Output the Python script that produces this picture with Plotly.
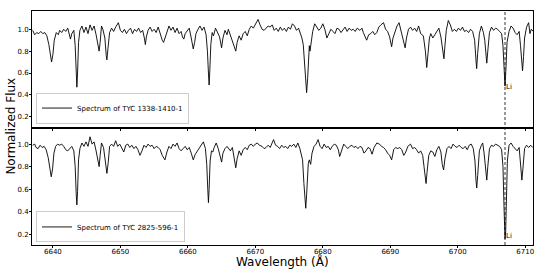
import plotly.graph_objects as go
from plotly.subplots import make_subplots

# ---------------- data ----------------
wl_top = [6637.0, 6637.3, 6637.6, 6637.9, 6638.2, 6638.5, 6638.8, 6639.1, 6639.4, 6639.6, 6639.8, 6640.0,
          6640.2, 6640.5, 6640.8, 6641.0, 6641.3, 6641.6, 6641.9, 6642.2, 6642.4, 6642.6, 6642.8, 6643.1,
          6643.3, 6643.45, 6643.55, 6643.65, 6643.8, 6644.0, 6644.3, 6644.6, 6644.9, 6645.2, 6645.5, 6645.8,
          6646.1, 6646.4, 6646.7, 6646.85, 6647.0, 6647.2, 6647.4, 6647.7, 6647.9, 6648.0, 6648.15, 6648.4,
          6648.7, 6649.0, 6649.3, 6649.7, 6650.0, 6650.3, 6650.6, 6650.9, 6651.2, 6651.5, 6651.8, 6652.1,
          6652.4, 6652.7, 6653.0, 6653.3, 6653.55, 6653.7, 6653.85, 6654.1, 6654.4, 6654.7, 6655.0, 6655.3,
          6655.6, 6655.9, 6656.2, 6656.4, 6656.6, 6656.9, 6657.2, 6657.5, 6657.8, 6658.1, 6658.4, 6658.7,
          6659.0, 6659.2, 6659.4, 6659.6, 6659.9, 6660.2, 6660.5, 6660.8, 6661.0, 6661.2, 6661.5, 6661.8,
          6662.1, 6662.4, 6662.7, 6662.9, 6663.05, 6663.15, 6663.25, 6663.4, 6663.6, 6663.8, 6664.1, 6664.4,
          6664.7, 6665.0, 6665.2, 6665.5, 6665.8, 6666.0, 6666.3, 6666.6, 6666.9, 6667.1, 6667.3, 6667.6,
          6667.9, 6668.2, 6668.5, 6668.8, 6669.1, 6669.4, 6669.7, 6670.0, 6670.4, 6670.7, 6671.0, 6671.3,
          6671.6, 6671.9, 6672.2, 6672.5, 6672.8, 6673.1, 6673.4, 6673.7, 6674.0, 6674.3, 6674.6, 6674.9,
          6675.2, 6675.5, 6675.8, 6676.1, 6676.4, 6676.7, 6676.9, 6677.1, 6677.3, 6677.45, 6677.6, 6677.75,
          6677.9, 6678.0, 6678.1, 6678.3, 6678.5, 6678.8, 6679.1, 6679.4, 6679.7, 6680.0, 6680.3, 6680.6,
          6680.9, 6681.2, 6681.5, 6681.8, 6682.1, 6682.4, 6682.7, 6683.0, 6683.3, 6683.6, 6683.9, 6684.2,
          6684.5, 6684.8, 6685.1, 6685.5, 6685.8, 6686.0, 6686.3, 6686.5, 6686.8, 6687.1, 6687.4, 6687.7,
          6688.0, 6688.3, 6688.6, 6689.0, 6689.3, 6689.6, 6689.9, 6690.2, 6690.4, 6690.7, 6691.0, 6691.3,
          6691.6, 6691.9, 6692.2, 6692.4, 6692.7, 6693.0, 6693.3, 6693.6, 6693.9, 6694.2, 6694.5, 6694.9,
          6695.2, 6695.4, 6695.6, 6695.8, 6696.0, 6696.3, 6696.6, 6696.9, 6697.2, 6697.5, 6697.8, 6697.95,
          6698.1, 6698.3, 6698.6, 6698.9, 6699.2, 6699.5, 6699.8, 6700.1, 6700.4, 6700.7, 6701.0, 6701.3,
          6701.6, 6701.9, 6702.2, 6702.5, 6702.7, 6702.8, 6702.95, 6703.2, 6703.5, 6703.8, 6704.0, 6704.15,
          6704.3, 6704.45, 6704.7, 6705.0, 6705.3, 6705.6, 6705.9, 6706.2, 6706.5, 6706.7, 6706.85, 6707.0,
          6707.15, 6707.3, 6707.6, 6707.9, 6708.2, 6708.5, 6708.8, 6709.1, 6709.3, 6709.45, 6709.6, 6709.75,
          6709.9, 6710.2, 6710.5, 6710.7, 6710.9, 6711.2]
flux_top = [0.99, 0.95, 0.97, 0.96, 0.98, 0.96, 0.97, 0.94, 0.86, 0.76, 0.70, 0.77,
            0.90, 0.97, 0.95, 0.99, 0.97, 1.00, 0.98, 1.01, 0.95, 0.91, 0.96, 0.99,
            0.85, 0.60, 0.47, 0.60, 0.88, 0.99, 1.03, 0.97, 1.02, 0.96, 1.04, 0.99,
            1.03, 0.95, 0.86, 0.80, 0.88, 1.03, 1.00, 0.92, 0.76, 0.72, 0.82, 0.97,
            1.01, 0.98, 1.02, 1.06, 0.99, 0.97, 1.00, 0.96, 0.99, 1.01, 0.96, 1.00,
            0.98, 1.01, 0.97, 0.99, 0.92, 0.86, 0.93, 0.99, 1.02, 0.98, 1.00, 0.97,
            1.02, 0.95, 0.90, 0.88, 0.92, 0.99, 1.03, 0.99, 1.02, 0.97, 1.01, 0.96,
            0.98, 0.93, 0.91, 0.96, 0.99, 1.01, 0.92, 0.82, 0.88, 0.96, 1.00, 1.03,
            0.99, 1.02, 0.95, 0.80, 0.60, 0.49, 0.62, 0.86, 0.97, 0.94, 1.01, 0.97,
            0.93, 0.83, 0.92, 0.99, 0.95, 1.00, 0.94, 0.90, 0.84, 0.80, 0.88, 0.94,
            0.90, 0.96, 0.98, 0.94, 1.00, 1.03, 1.01, 1.05, 1.09, 1.04, 1.00, 0.99,
            1.01, 1.03, 1.02, 1.04, 0.99, 1.01, 0.98, 1.02, 0.99, 1.01, 0.98, 1.02,
            1.00, 1.05, 1.03, 0.99, 1.01, 0.96, 0.92, 0.86, 0.70, 0.50, 0.42, 0.55,
            0.75, 0.85, 0.80, 0.90, 0.98, 1.05, 1.02, 0.99, 1.01, 1.05, 1.00, 0.92,
            0.96, 1.00, 0.98, 0.96, 1.01, 1.00, 0.97, 1.00, 1.02, 0.98, 1.01, 0.99,
            1.00, 0.98, 1.01, 0.99, 1.01, 0.97, 0.93, 0.90, 0.95, 0.96, 0.98, 0.95,
            0.97, 1.02, 1.04, 1.06, 1.00, 0.98, 0.93, 0.84, 0.92, 0.98, 1.03, 1.06,
            0.99, 0.92, 0.83, 0.92, 1.00, 1.02, 0.99, 1.01, 0.98, 1.03, 0.96, 0.94,
            0.80, 0.65, 0.78, 0.92, 0.96, 0.92, 0.95, 0.98, 1.01, 0.93, 0.80, 0.73,
            0.85, 0.99, 1.08, 1.04, 0.98, 1.00, 0.98, 1.01, 0.99, 1.02, 0.98, 0.99,
            0.97, 1.00, 0.98, 0.90, 0.72, 0.64, 0.78, 0.96, 1.03, 0.97, 0.90, 0.75,
            0.69, 0.80, 0.97, 1.02, 0.99, 1.01, 1.00, 0.98, 0.96, 0.85, 0.65, 0.48,
            0.65, 0.88, 0.98, 1.03, 1.01, 0.97, 0.95, 0.98, 0.85, 0.68, 0.62, 0.75,
            0.92, 1.02, 1.06, 0.96, 1.00, 0.98]

wl_bot = [6637.0, 6637.3, 6637.5, 6637.8, 6638.1, 6638.4, 6638.7, 6639.0, 6639.3, 6639.55, 6639.75, 6639.95,
          6640.15, 6640.4, 6640.7, 6641.0, 6641.3, 6641.6, 6641.9, 6642.2, 6642.5, 6642.8, 6643.1, 6643.3,
          6643.45, 6643.55, 6643.65, 6643.8, 6644.0, 6644.3, 6644.6, 6644.9, 6645.2, 6645.5, 6645.8, 6646.1,
          6646.4, 6646.7, 6646.85, 6647.0, 6647.2, 6647.5, 6647.8, 6648.0, 6648.2, 6648.4, 6648.7, 6649.0,
          6649.3, 6649.6, 6649.9, 6650.2, 6650.5, 6650.8, 6651.1, 6651.4, 6651.7, 6652.0, 6652.3, 6652.6,
          6652.9, 6653.2, 6653.5, 6653.8, 6654.1, 6654.4, 6654.7, 6655.0, 6655.3, 6655.6, 6655.9, 6656.2,
          6656.6, 6656.9, 6657.2, 6657.5, 6657.8, 6658.1, 6658.4, 6658.7, 6659.0, 6659.3, 6659.6, 6659.9,
          6660.2, 6660.5, 6660.8, 6661.1, 6661.4, 6661.7, 6662.0, 6662.3, 6662.6, 6662.8, 6662.95, 6663.05,
          6663.15, 6663.3, 6663.5, 6663.7, 6663.9, 6664.2, 6664.5, 6664.8, 6665.0, 6665.2, 6665.5, 6665.8,
          6666.0, 6666.3, 6666.6, 6666.9, 6667.1, 6667.3, 6667.6, 6667.9, 6668.2, 6668.5, 6668.8, 6669.1,
          6669.4, 6669.7, 6670.0, 6670.3, 6670.6, 6671.0, 6671.3, 6671.6, 6671.9, 6672.2, 6672.5, 6672.7,
          6673.0, 6673.3, 6673.6, 6673.9, 6674.2, 6674.5, 6674.8, 6675.1, 6675.4, 6675.7, 6676.0, 6676.3,
          6676.6, 6676.8, 6677.0, 6677.2, 6677.35, 6677.47, 6677.6, 6677.75, 6677.85, 6678.0, 6678.2, 6678.4,
          6678.7, 6679.0, 6679.3, 6679.6, 6679.9, 6680.2, 6680.5, 6680.8, 6681.1, 6681.4, 6681.7, 6682.0,
          6682.3, 6682.5, 6682.8, 6683.1, 6683.4, 6683.7, 6684.0, 6684.3, 6684.6, 6684.9, 6685.2, 6685.5,
          6685.8, 6686.1, 6686.4, 6686.7, 6687.0, 6687.3, 6687.6, 6688.0, 6688.4, 6688.7, 6689.0, 6689.3,
          6689.6, 6689.9, 6690.2, 6690.5, 6690.8, 6691.1, 6691.4, 6691.7, 6692.0, 6692.3, 6692.6, 6693.0,
          6693.3, 6693.6, 6693.9, 6694.2, 6694.5, 6694.8, 6695.0, 6695.2, 6695.3, 6695.45, 6695.7, 6696.0,
          6696.3, 6696.6, 6696.9, 6697.2, 6697.5, 6697.7, 6697.9, 6698.1, 6698.4, 6698.7, 6699.0, 6699.3,
          6699.6, 6699.9, 6700.2, 6700.5, 6700.8, 6701.1, 6701.4, 6701.7, 6702.0, 6702.3, 6702.55, 6702.7,
          6702.81, 6702.95, 6703.2, 6703.5, 6703.7, 6703.9, 6704.1, 6704.3, 6704.45, 6704.7, 6705.0, 6705.3,
          6705.6, 6705.9, 6706.2, 6706.5, 6706.7, 6706.85, 6706.95, 6707.0, 6707.1, 6707.2, 6707.35, 6707.6,
          6707.9, 6708.2, 6708.5, 6708.8, 6709.1, 6709.3, 6709.5, 6709.65, 6709.9, 6710.2, 6710.5, 6710.8,
          6711.1]
flux_bot = [0.99, 1.00, 0.97, 0.96, 0.99, 0.97, 0.98, 0.95, 0.88, 0.76, 0.71, 0.78,
            0.92, 0.98, 1.00, 0.99, 1.00, 0.98, 0.95, 0.94, 0.96, 0.98, 0.94, 0.80,
            0.56, 0.46, 0.58, 0.86, 0.96, 1.01, 0.98, 1.02, 0.98, 1.065, 1.00, 1.02,
            0.94, 0.86, 0.80, 0.90, 1.01, 0.97, 0.82, 0.74, 0.84, 0.98, 1.00, 0.98,
            1.03, 0.98, 1.00, 0.96, 0.93, 0.99, 1.00, 0.97, 0.99, 0.96, 0.98, 0.95,
            0.90, 0.94, 0.99, 0.97, 1.00, 0.98, 0.99, 0.96, 0.98, 0.97, 0.95, 0.90,
            0.86, 0.93, 0.98, 0.96, 1.00, 0.98, 1.01, 0.96, 0.94, 0.96, 0.98, 0.95,
            0.97, 0.92, 0.86, 0.91, 0.94, 0.96, 1.00, 1.02, 0.96, 0.82, 0.60, 0.48,
            0.60, 0.85, 0.94, 0.93, 0.97, 1.01, 0.96, 0.88, 0.84, 0.92, 0.96, 0.98,
            0.96, 0.94, 0.97, 0.86, 0.79, 0.87, 0.94, 0.90, 0.95, 0.97, 0.95, 0.99,
            1.00, 0.98, 1.00, 1.01, 0.99, 0.98, 0.96, 0.97, 0.99, 0.97, 1.01, 1.04,
            0.99, 0.98, 0.96, 0.99, 0.97, 0.98, 0.96, 0.99, 0.98, 1.00, 0.97, 1.01,
            0.96, 0.92, 0.86, 0.65, 0.48, 0.43, 0.55, 0.75, 0.83, 0.86, 0.82, 0.92,
            0.98, 1.00, 1.04, 0.98, 0.96, 1.00, 0.97, 0.98, 0.95, 0.98, 1.00, 0.99,
            0.95, 0.89, 0.95, 1.00, 0.98, 0.96, 0.98, 0.99, 0.97, 0.98, 0.96, 0.98,
            0.97, 0.92, 0.94, 0.97, 0.96, 0.91, 0.97, 1.01, 1.00, 0.98, 0.97, 0.95,
            0.92, 0.90, 0.86, 0.95, 0.97, 0.96, 0.97, 0.95, 0.90, 0.93, 0.98, 1.00,
            0.96, 0.97, 0.95, 0.92, 0.94, 0.90, 0.80, 0.68, 0.65, 0.75, 0.90, 0.94,
            0.93, 0.89, 0.95, 0.98, 0.93, 0.82, 0.77, 0.87, 0.96, 0.98, 0.96, 1.00,
            0.98, 0.97, 0.99, 0.97, 0.96, 0.98, 0.95, 0.99, 1.00, 0.96, 0.85, 0.68,
            0.61, 0.72, 0.94, 0.99, 1.01, 0.92, 0.78, 0.68, 0.80, 0.96, 0.99, 0.98,
            1.00, 0.99, 0.98, 0.95, 0.80, 0.45, 0.20, 0.16, 0.22, 0.50, 0.85, 0.99,
            1.01, 0.98, 0.96, 0.94, 0.97, 0.83, 0.68, 0.78, 0.96, 0.99, 0.97, 0.99,
            0.97]

names = ["Spectrum of TYC 1338-1410-1", "Spectrum of TYC 2825-596-1"]
li_wavelength = 6707.0
li_label_y = [0.47, 0.18]
x_ticks = [6640, 6650, 6660, 6670, 6680, 6690, 6700, 6710]
y_ticks = [0.2, 0.4, 0.6, 0.8, 1.0]

# ---------------- figure ----------------
FONT = "DejaVu Sans"
fig = make_subplots(rows=2, cols=1, shared_xaxes=True, vertical_spacing=0)

fig.add_trace(go.Scatter(x=wl_top, y=flux_top, mode="lines", name=names[0],
                         line=dict(color="black", width=0.9), legend="legend"), row=1, col=1)
fig.add_trace(go.Scatter(x=wl_bot, y=flux_bot, mode="lines", name=names[1],
                         line=dict(color="black", width=0.9), legend="legend2"), row=2, col=1)

# Li line
fig.add_shape(type="line", xref="x", yref="paper", x0=li_wavelength, x1=li_wavelength, y0=0, y1=1,
              line=dict(color="black", width=0.8, dash="3px,2px"))
for i, yv in enumerate(li_label_y):
    fig.add_annotation(x=li_wavelength, y=yv, xref="x" if i == 0 else "x2",
                       yref="y" if i == 0 else "y2", text="Li", showarrow=False,
                       xanchor="left", yanchor="middle", xshift=-1,
                       font=dict(family=FONT, size=7, color="#000000"))

axis_common = dict(showline=True, linecolor="black", linewidth=1, mirror=True,
                   ticks="outside", ticklen=2, tickwidth=0.8, tickcolor="black",
                   showgrid=False, zeroline=False, automargin=False,
                   tickfont=dict(family=FONT, size=7, color="black"))

fig.update_xaxes(range=[6636.9, 6711.15], tickvals=x_ticks, ticklabelstandoff=-2, **axis_common)
fig.update_xaxes(showticklabels=False, row=1, col=1)
fig.update_yaxes(tickvals=y_ticks, tickformat=".1f", ticklabelstandoff=-1, **axis_common)
fig.update_yaxes(range=[0.097, 1.167], row=1, col=1)
fig.update_yaxes(range=[0.104, 1.143], row=2, col=1)

fig.add_annotation(text="Normalized Flux", xref="paper", yref="paper", x=-0.042, y=0.51,
                   textangle=-90, showarrow=False, xanchor="center", yanchor="middle",
                   font=dict(family=FONT, size=12, color="black"))
fig.add_annotation(text="Wavelength (Å)", xref="paper", yref="paper", x=0.5, y=-0.072,
                   showarrow=False, xanchor="center", yanchor="middle",
                   font=dict(family=FONT, size=12, color="black"))

legend_common = dict(bgcolor="white", bordercolor="#cccccc", borderwidth=1,
                     font=dict(family=FONT, size=7, color="black"),
                     xanchor="left", yanchor="bottom", x=0.008,
                     itemwidth=30, tracegroupgap=0)

fig.update_layout(
    template="none",
    width=544, height=272,
    margin=dict(l=32, r=11, t=11, b=27, autoexpand=False),
    paper_bgcolor="white", plot_bgcolor="white",
    showlegend=True,
    legend=dict(y=0.519, **legend_common),
    legend2=dict(y=0.011, **legend_common),
)

fig.write_html("out.html", config={"displayModeBar": False},
               post_script="document.body.style.margin='0px';")
